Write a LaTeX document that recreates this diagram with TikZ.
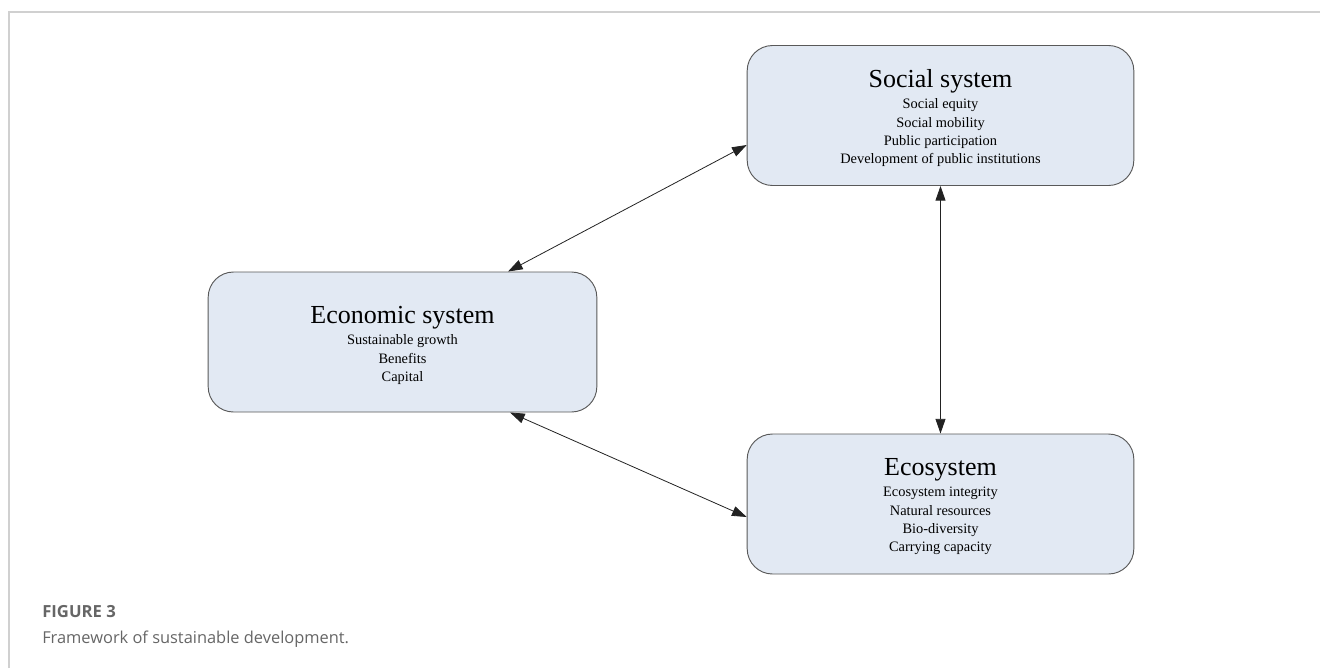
\documentclass[tikz,border=0pt]{standalone}
\usepackage{fontspec}
\setmainfont{Liberation Serif}
\newfontfamily\capfont{Open Sans}
\usetikzlibrary{arrows.meta,calc}
\definecolor{boxfill}{HTML}{E2E9F3}
\definecolor{boxline}{HTML}{595959}
\definecolor{arrline}{HTML}{222222}
\definecolor{framegray}{HTML}{D0D0D0}
\definecolor{capgray}{HTML}{666666}
\newcommand{\ttlfont}{\fontsize{19.5}{22}\selectfont}
\tikzset{
  sysbox/.style={draw=boxline, line width=0.7pt, fill=boxfill, rounded corners=19pt,
    minimum width=290pt, minimum height=105pt, inner sep=0pt},
  systext/.style={align=center, inner sep=0pt, font=\fontsize{10.8}{13.75}\selectfont},
  link/.style={draw=arrline, line width=0.6pt, {Triangle[length=11pt,width=7.5pt]}-{Triangle[length=11pt,width=7.5pt]}},
  captxt/.style={anchor=base west, inner sep=0pt, text=capgray}
}
\begin{document}
\begin{tikzpicture}[x=0.75pt,y=-0.75pt]
\useasboundingbox (0,0) rectangle (1320,668);
\draw[framegray, line width=1.3pt] (9,668) -- (9,12) -- (1320,12);
\node[sysbox] (soc) at (940.5,115.5) {};
\node[sysbox, minimum width=291.5pt] (eco) at (402.5,342) {};
\node[sysbox] (env) at (940.5,504) {};
\node[systext] (soct) at ($(soc.center)+(0,3)$) {{\ttlfont Social system}\\[2pt]Social equity\\Social mobility\\Public participation\\Development of public institutions};
\node[systext] (ecot) at ($(eco.center)+(0,3.5)$) {{\ttlfont Economic system}\\[2pt]Sustainable growth\\Benefits\\Capital};
\node[systext] (envt) at ($(env.center)+(0,3)$) {{\ttlfont Ecosystem}\\[2pt]Ecosystem integrity\\Natural resources\\Bio-diversity\\Carrying capacity};
\draw[link] ($(soc.west)+(0,29.5)$) -- ($(eco.north)+(105.5,0)$);
\draw[link] ($(eco.south)+(107.5,0)$) -- ($(env.west)+(0,13)$);
\draw[link] (soc.south) -- (env.north);
\node[captxt, font=\capfont\bfseries\fontsize{12.5}{15}\selectfont] (fig) at (42,617.5) {FIGURE 3};
\node[captxt, font=\capfont\fontsize{12.3}{15}\selectfont] (cap) at (42,643) {Framework of sustainable development.};
\end{tikzpicture}
\end{document}
